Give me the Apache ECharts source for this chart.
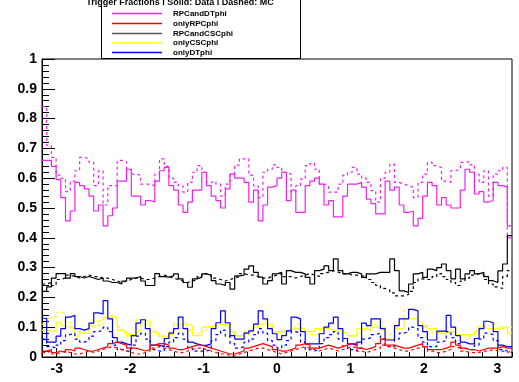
<!DOCTYPE html>
<html><head><meta charset="utf-8">
<script src="https://cdn.jsdelivr.net/npm/echarts@6/dist/echarts.min.js"></script>
<style>html,body{margin:0;padding:0;background:#fff}#c{width:519px;height:382px}</style>
</head><body><div id="c"></div>
<script>
// Histogram binning (phi from -3.2 to 3.2, 100 bins)
const xMin = -3.2, xMax = 3.2, nBins = 100;
const xTickLabels = [-3, -2, -1, 0, 1, 2, 3];
const yTickLabels = [0, 0.1, 0.2, 0.3, 0.4, 0.5, 0.6, 0.7, 0.8, 0.9, 1];
const legendNames = ['RPCandDTphi', 'onlyRPCphi', 'RPCandCSCphi', 'onlyCSCphi', 'onlyDTphi'];
const headerText = 'Trigger Fractions I Solid: Data I Dashed: MC';

// Data (solid)
const rpcAndDtData = [0.66,0.66,0.64,0.595,0.535,0.457,0.49,0.586,0.575,0.564,0.54,0.49,0.51,0.44,0.474,0.50,0.59,0.59,0.63,0.54,0.54,0.51,0.525,0.52,0.59,0.625,0.636,0.575,0.56,0.51,0.485,0.52,0.56,0.56,0.62,0.575,0.54,0.525,0.50,0.564,0.614,0.60,0.60,0.586,0.52,0.56,0.457,0.51,0.57,0.575,0.60,0.62,0.525,0.56,0.485,0.485,0.575,0.59,0.60,0.58,0.51,0.525,0.47,0.47,0.54,0.58,0.58,0.586,0.57,0.53,0.515,0.48,0.48,0.59,0.56,0.57,0.51,0.485,0.49,0.44,0.465,0.54,0.586,0.575,0.51,0.535,0.51,0.50,0.50,0.56,0.63,0.62,0.547,0.555,0.52,0.525,0.586,0.575,0.57,0.44];
const onlyRpcData = [0.02,0.025,0.015,0.02,0.015,0.025,0.02,0.03,0.025,0.02,0.02,0.025,0.03,0.035,0.045,0.05,0.045,0.04,0.03,0.03,0.025,0.02,0.025,0.04,0.045,0.045,0.04,0.03,0.025,0.025,0.03,0.035,0.04,0.04,0.035,0.03,0.025,0.02,0.015,0.01,0.01,0.015,0.02,0.03,0.035,0.04,0.045,0.04,0.035,0.025,0.02,0.02,0.025,0.03,0.04,0.045,0.04,0.03,0.03,0.035,0.04,0.035,0.03,0.035,0.04,0.045,0.045,0.03,0.025,0.03,0.035,0.045,0.06,0.04,0.04,0.035,0.03,0.03,0.035,0.04,0.045,0.035,0.025,0.025,0.025,0.03,0.035,0.05,0.04,0.03,0.025,0.025,0.02,0.025,0.03,0.03,0.03,0.035,0.03,0.03];
const rpcAndCscData = [0.22,0.235,0.265,0.28,0.28,0.265,0.28,0.27,0.265,0.27,0.265,0.26,0.265,0.255,0.25,0.25,0.245,0.255,0.265,0.265,0.27,0.255,0.24,0.24,0.28,0.27,0.268,0.272,0.279,0.262,0.25,0.234,0.262,0.268,0.279,0.275,0.256,0.245,0.24,0.25,0.228,0.272,0.275,0.295,0.306,0.284,0.268,0.245,0.256,0.279,0.284,0.245,0.29,0.284,0.284,0.279,0.267,0.245,0.29,0.295,0.306,0.29,0.329,0.29,0.279,0.284,0.284,0.279,0.267,0.279,0.279,0.284,0.284,0.284,0.329,0.29,0.222,0.217,0.245,0.279,0.284,0.267,0.295,0.29,0.30,0.312,0.29,0.262,0.295,0.262,0.279,0.29,0.279,0.284,0.27,0.256,0.25,0.289,0.312,0.407];
const onlyCscData = [0.09,0.087,0.087,0.117,0.105,0.10,0.095,0.07,0.08,0.08,0.105,0.12,0.125,0.134,0.134,0.134,0.09,0.085,0.075,0.075,0.125,0.125,0.12,0.085,0.08,0.068,0.068,0.085,0.11,0.11,0.11,0.105,0.072,0.072,0.10,0.10,0.105,0.11,0.11,0.11,0.085,0.072,0.072,0.085,0.085,0.10,0.11,0.11,0.11,0.085,0.085,0.09,0.09,0.095,0.095,0.095,0.085,0.085,0.095,0.095,0.095,0.09,0.09,0.085,0.08,0.072,0.072,0.095,0.095,0.09,0.10,0.10,0.10,0.06,0.06,0.095,0.095,0.128,0.128,0.128,0.105,0.105,0.095,0.095,0.08,0.08,0.085,0.085,0.075,0.075,0.075,0.075,0.085,0.10,0.095,0.095,0.095,0.10,0.10,0.08];
const onlyDtData = [0.13,0.05,0.05,0.07,0.095,0.134,0.14,0.095,0.09,0.095,0.114,0.148,0.145,0.189,0.128,0.065,0.05,0.044,0.04,0.072,0.114,0.125,0.095,0.04,0.04,0.035,0.062,0.08,0.095,0.134,0.095,0.05,0.044,0.04,0.039,0.044,0.095,0.115,0.155,0.115,0.072,0.06,0.06,0.08,0.088,0.11,0.155,0.128,0.095,0.078,0.058,0.072,0.088,0.134,0.128,0.085,0.044,0.044,0.044,0.078,0.10,0.114,0.134,0.095,0.062,0.044,0.039,0.05,0.114,0.105,0.128,0.128,0.095,0.057,0.057,0.105,0.128,0.128,0.16,0.155,0.105,0.085,0.057,0.057,0.087,0.087,0.14,0.10,0.072,0.05,0.044,0.044,0.062,0.095,0.12,0.115,0.085,0.04,0.035,0.035];

// MC (dashed)
const rpcAndDtMC = [0.84,0.71,0.67,0.61,0.60,0.555,0.59,0.625,0.67,0.665,0.653,0.575,0.625,0.51,0.575,0.575,0.66,0.655,0.63,0.614,0.61,0.58,0.58,0.575,0.614,0.665,0.64,0.60,0.586,0.575,0.553,0.586,0.62,0.642,0.62,0.586,0.59,0.58,0.54,0.58,0.614,0.644,0.665,0.665,0.61,0.575,0.535,0.62,0.63,0.645,0.636,0.62,0.614,0.553,0.575,0.597,0.642,0.65,0.63,0.58,0.575,0.553,0.553,0.58,0.61,0.62,0.636,0.614,0.60,0.586,0.558,0.52,0.60,0.62,0.647,0.586,0.58,0.575,0.57,0.535,0.586,0.614,0.653,0.642,0.636,0.59,0.586,0.625,0.63,0.653,0.655,0.645,0.614,0.586,0.625,0.54,0.614,0.625,0.636,0.40];
const onlyRpcMC = [0.015,0.02,0.01,0.015,0.02,0.015,0.01,0.01,0.015,0.02,0.015,0.02,0.025,0.03,0.035,0.03,0.025,0.02,0.015,0.01,0.01,0.015,0.02,0.03,0.035,0.03,0.025,0.02,0.015,0.015,0.02,0.025,0.03,0.03,0.025,0.02,0.015,0.01,0.01,0.005,0.005,0.01,0.015,0.02,0.025,0.03,0.03,0.025,0.02,0.015,0.01,0.015,0.02,0.025,0.03,0.035,0.03,0.025,0.02,0.025,0.03,0.025,0.02,0.025,0.03,0.035,0.03,0.02,0.015,0.02,0.025,0.03,0.04,0.035,0.03,0.025,0.02,0.02,0.025,0.03,0.035,0.03,0.02,0.015,0.015,0.02,0.025,0.035,0.03,0.02,0.015,0.015,0.015,0.02,0.02,0.025,0.02,0.02,0.015,0.02];
const rpcAndCscMC = [0.245,0.25,0.24,0.26,0.265,0.275,0.27,0.265,0.27,0.275,0.27,0.27,0.265,0.265,0.26,0.255,0.25,0.255,0.26,0.265,0.265,0.26,0.26,0.265,0.27,0.275,0.27,0.265,0.26,0.255,0.25,0.255,0.26,0.27,0.28,0.275,0.265,0.26,0.255,0.26,0.265,0.27,0.28,0.275,0.275,0.27,0.265,0.265,0.27,0.275,0.28,0.27,0.27,0.265,0.27,0.275,0.28,0.275,0.27,0.28,0.285,0.29,0.285,0.28,0.28,0.275,0.275,0.27,0.275,0.26,0.25,0.24,0.23,0.225,0.215,0.205,0.205,0.21,0.22,0.25,0.262,0.26,0.26,0.27,0.28,0.27,0.26,0.25,0.24,0.255,0.265,0.275,0.28,0.275,0.26,0.245,0.235,0.23,0.27,0.29];
const onlyCscMC = [0.11,0.13,0.135,0.15,0.15,0.12,0.10,0.085,0.09,0.09,0.10,0.10,0.11,0.13,0.14,0.12,0.10,0.08,0.07,0.07,0.09,0.11,0.115,0.09,0.075,0.07,0.065,0.075,0.09,0.105,0.10,0.09,0.08,0.075,0.09,0.10,0.105,0.11,0.12,0.10,0.08,0.07,0.065,0.07,0.085,0.10,0.12,0.12,0.10,0.085,0.08,0.075,0.085,0.10,0.11,0.10,0.085,0.075,0.08,0.09,0.10,0.11,0.105,0.09,0.08,0.07,0.07,0.08,0.09,0.10,0.11,0.105,0.09,0.075,0.08,0.10,0.13,0.16,0.165,0.155,0.12,0.10,0.085,0.08,0.085,0.09,0.10,0.09,0.075,0.07,0.07,0.075,0.09,0.105,0.12,0.12,0.11,0.095,0.09,0.10];
const onlyDtMC = [0.06,0.035,0.03,0.04,0.055,0.075,0.08,0.06,0.05,0.055,0.07,0.085,0.09,0.10,0.085,0.04,0.025,0.02,0.02,0.04,0.07,0.08,0.06,0.025,0.02,0.02,0.035,0.05,0.065,0.08,0.06,0.03,0.02,0.02,0.02,0.025,0.055,0.075,0.09,0.07,0.045,0.03,0.035,0.05,0.06,0.075,0.095,0.08,0.055,0.04,0.03,0.04,0.055,0.085,0.08,0.05,0.025,0.02,0.025,0.045,0.065,0.075,0.085,0.06,0.035,0.025,0.02,0.03,0.06,0.065,0.075,0.08,0.06,0.035,0.035,0.06,0.08,0.085,0.10,0.095,0.065,0.05,0.035,0.035,0.05,0.055,0.085,0.065,0.045,0.03,0.025,0.025,0.04,0.06,0.08,0.075,0.055,0.025,0.02,0.015];

const colors = {magenta:'#ee22f0', red:'#ff0000', black:'#000000', yellow:'#ffff00', blue:'#0000ff'};

function histPoints(vals){
  const w = (xMax - xMin) / vals.length;
  const pts = vals.map((v,i)=>[xMin + i*w, v]);
  pts.push([xMax, vals[vals.length-1]]);
  return pts;
}
function mk(name, vals, color, dashed){
  return {name, type:'line', step:'end', data:histPoints(vals), xAxisIndex:0, yAxisIndex:0,
    showSymbol:false, symbol:'none', silent:true, animation:false,
    lineStyle:{color, width:1.2, type: dashed ? [3,3] : 'solid'}};
}

const chart = echarts.init(document.getElementById('c'), null, {renderer:'canvas'});
const font = '"Liberation Sans", Helvetica, Arial, sans-serif';

// legend graphics
const lg = [];
const boxL = 101, boxR = 300, boxT = -2, boxB = 58;
lg.push({type:'rect', shape:{x:boxL+0.5, y:boxT, width:boxR-boxL, height:boxB-boxT+0.5}, style:{fill:'#fff', stroke:'#000', lineWidth:1}, z:100});
lg.push({type:'text', x:180, y:3, style:{text:headerText, fill:'#000', font:'bold 9px '+font, textAlign:'center', textVerticalAlign:'middle'}, z:101});
const legColors = [colors.magenta, colors.red, '#555555', colors.yellow, colors.blue];
const rowsY = [13.5, 23.5, 33.5, 43, 52.5];
legendNames.forEach((n,i)=>{
  lg.push({type:'line', shape:{x1:112, y1:rowsY[i], x2:162, y2:rowsY[i]}, style:{stroke:legColors[i], lineWidth:1.5}, z:101});
  lg.push({type:'text', x:173, y:rowsY[i], style:{text:n, fill:'#000', font:'bold 8px '+font, textVerticalAlign:'middle'}, z:101});
});

chart.setOption({
  animation:false,
  grid:{left:42, right:7, top:59, bottom:25, show:true, borderColor:'#000', borderWidth:1, backgroundColor:'transparent'},
  xAxis:[
    {type:'value', min:xMin, max:xMax, interval:0.2, position:'bottom',
     axisLine:{show:true, onZero:false, lineStyle:{color:'#000', width:1}},
     axisTick:{show:true, inside:true, length:5, lineStyle:{color:'#000'}},
     axisLabel:{show:false}, splitLine:{show:false}},
    {type:'value', min:xMin, max:xMax, position:'bottom', gridIndex:0,
     axisLine:{show:false, onZero:false},
     axisTick:{show:true, inside:true, length:9, customValues:xTickLabels, lineStyle:{color:'#000'}},
     axisLabel:{show:true, customValues:xTickLabels, margin:5, color:'#000', fontFamily:font, fontWeight:'bold', fontSize:14},
     splitLine:{show:false}}
  ],
  yAxis:{type:'value', min:0, max:1, interval:0.1, position:'left',
    axisLine:{show:true, onZero:false, lineStyle:{color:'#000', width:1}},
    axisTick:{show:true, inside:true, length:13, lineStyle:{color:'#000'}},
    minorTick:{show:true, splitNumber:5, length:7, lineStyle:{color:'#000'}},
    axisLabel:{margin:5, color:'#000', fontFamily:font, fontWeight:'bold', fontSize:14,
      formatter:v=>String(+v.toFixed(1))},
    splitLine:{show:false}},
  series:[
    mk('RPCandDTphi', rpcAndDtData, colors.magenta, false),
    mk('RPCandDTphi MC', rpcAndDtMC, colors.magenta, true),
    mk('RPCandCSCphi', rpcAndCscData, colors.black, false),
    mk('RPCandCSCphi MC', rpcAndCscMC, colors.black, true),
    mk('onlyCSCphi', onlyCscData, colors.yellow, false),
    mk('onlyCSCphi MC', onlyCscMC, colors.yellow, true),
    mk('onlyDTphi', onlyDtData, colors.blue, false),
    mk('onlyDTphi MC', onlyDtMC, colors.blue, true),
    mk('onlyRPCphi', onlyRpcData, colors.red, false),
    mk('onlyRPCphi MC', onlyRpcMC, colors.red, true)
  ],
  graphic:lg
});
</script></body></html>
